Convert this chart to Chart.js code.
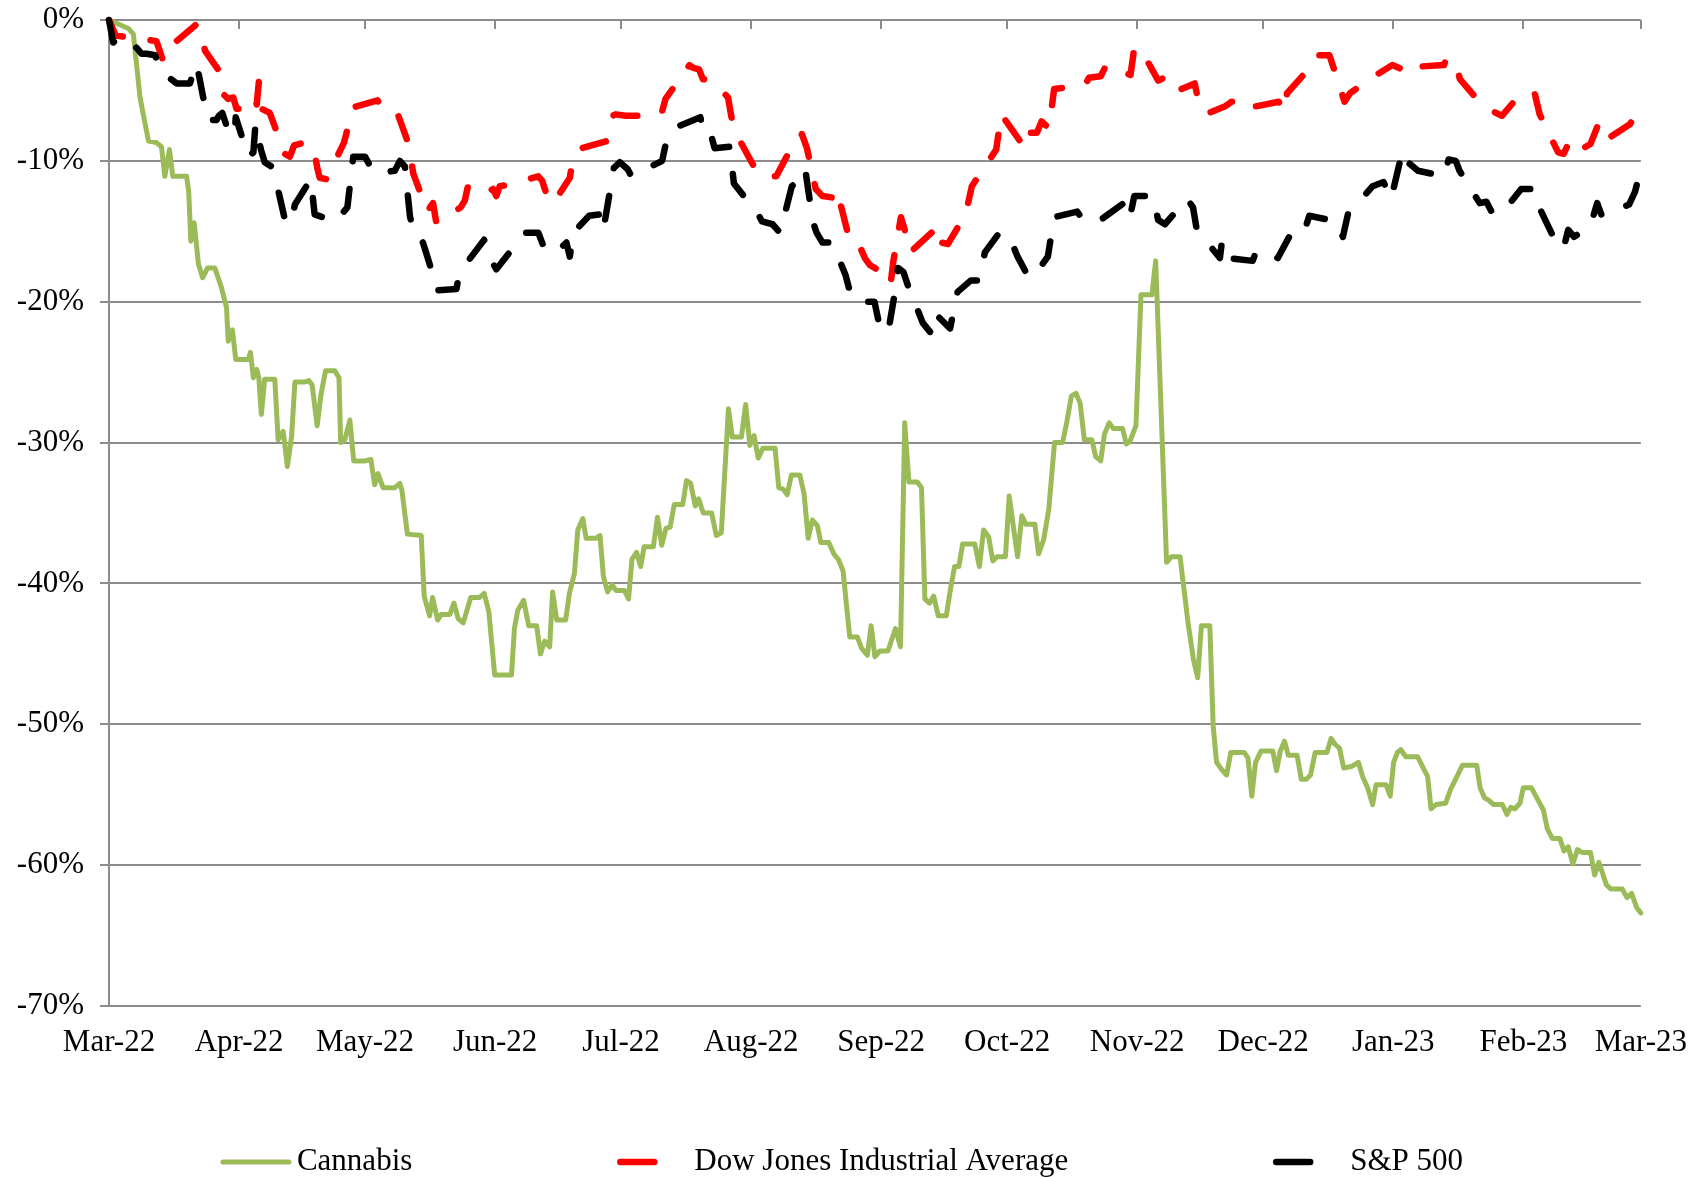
<!DOCTYPE html>
<html>
<head>
<meta charset="utf-8">
<title>Cannabis vs Dow Jones vs S&amp;P 500</title>
<script src="https://cdn.jsdelivr.net/npm/chart.js@4.4.1/dist/chart.umd.min.js"></script>
<style>
  html, body { margin: 0; padding: 0; background: #fff; }
  #wrap { width: 1705px; height: 1178px; }
</style>
</head>
<body>
<div id="wrap"><canvas id="chart" width="1705" height="1178"></canvas></div>
<script>
// x = days since 1 Mar 2022, y = % change since that day
const monthDays = [0, 31, 61, 92, 122, 153, 184, 214, 245, 275, 306, 337, 365];
const monthLabels = ['Mar-22', 'Apr-22', 'May-22', 'Jun-22', 'Jul-22', 'Aug-22', 'Sep-22',
  'Oct-22', 'Nov-22', 'Dec-22', 'Jan-23', 'Feb-23', 'Mar-23'];

const seriesNames = ['Cannabis', 'Dow Jones Industrial Average', 'S&P 500'];

const cannabis = [
  [0, 0], [4.6, -0.6], [5.8, -1], [7.4, -5.5], [9.4, -8.6], [11.3, -8.7], [12.5, -9], [13.3, -11.1],
  [14.4, -9.2], [15.2, -11.1], [18.5, -11.1], [19, -12.2], [19.5, -15.7], [20.3, -14.4], [21.3, -17.3],
  [22.3, -18.3], [23.5, -17.6], [25.2, -17.6], [26.7, -18.9], [28, -20.4], [28.4, -22.8], [29.4, -22],
  [30.2, -24.1], [33.2, -24.1], [33.7, -23.6], [34.4, -25.4], [35.2, -24.8], [35.7, -25.4], [36.3, -28],
  [37.1, -25.5], [39.5, -25.5], [40.3, -29.8], [41.5, -29.2], [42.5, -31.7], [43.5, -29.6], [44.3, -25.7],
  [46.7, -25.7], [47.6, -25.6], [48.4, -25.9], [49.6, -28.8], [50.5, -26.6], [51.6, -24.9], [53.8, -24.9],
  [54.8, -25.4], [55.2, -30], [56.2, -29.8], [57.4, -28.4], [58.3, -31.3], [61, -31.3], [62.4, -31.2],
  [63.3, -33], [64.1, -32.2], [65.3, -33.2], [68.1, -33.2], [69.3, -32.9], [69.8, -33.4], [71.1, -36.5],
  [74.4, -36.6], [75.1, -40.9], [76.4, -42.3], [77.1, -41], [78.3, -42.6], [79.2, -42.2], [81.2, -42.2],
  [82.2, -41.4], [83.2, -42.5], [84.4, -42.8], [86.2, -41], [88.3, -41], [89.4, -40.7], [90.5, -42],
  [91.9, -46.5], [95.9, -46.5], [96.6, -43.2], [97.4, -41.9], [98.8, -41.2], [100, -43], [101.9, -43],
  [102.8, -45], [103.8, -44.1], [105, -44.5], [105.7, -40.6], [106.7, -42.6], [108.8, -42.6], [109.7, -40.7],
  [110.9, -39.3], [111.7, -36.2], [112.9, -35.4], [113.7, -36.8], [116, -36.8], [117, -36.6], [117.8, -39.5],
  [118.8, -40.6], [119.9, -40.1], [120.8, -40.5], [122.8, -40.5], [123.8, -41.1], [124.6, -38.3],
  [125.7, -37.8], [126.7, -38.8], [127.5, -37.4], [129.7, -37.4], [130.7, -35.3], [131.7, -37.3],
  [132.7, -36.1], [133.7, -36], [134.7, -34.4], [136.7, -34.4], [137.6, -32.7], [138.6, -32.9],
  [139.7, -34.5], [140.5, -34], [141.6, -35], [143.6, -35], [144.7, -36.6], [145.9, -36.4], [147.6, -27.6],
  [148.5, -29.6], [150.7, -29.6], [151.7, -27.3], [152.7, -30.2], [153.7, -29.5], [154.7, -31.1],
  [155.8, -30.4], [158.7, -30.4], [159.6, -33.2], [160.6, -33.3], [161.6, -33.7], [162.6, -32.3],
  [164.6, -32.3], [165.6, -33.6], [166.6, -36.8], [167.6, -35.5], [168.8, -35.9], [169.6, -37.1],
  [171.5, -37.1], [172.7, -37.9], [173.8, -38.3], [174.9, -39.1], [176.5, -43.8], [178.3, -43.8],
  [179.3, -44.6], [180.7, -45.1], [181.6, -43], [182.5, -45.2], [183.7, -44.8], [185.6, -44.8],
  [187.4, -43.2], [188.6, -44.5], [189.6, -28.6], [190.6, -32.8], [192.6, -32.8], [193.6, -33.2],
  [194.4, -41.1], [195.5, -41.4], [196.5, -40.9], [197.6, -42.3], [199.5, -42.3], [200.5, -40.4],
  [201.5, -38.8], [202.5, -38.8], [203.4, -37.2], [206.3, -37.2], [207.4, -38.8], [208.4, -36.2],
  [209.6, -36.7], [210.6, -38.4], [211.6, -38.1], [213.6, -38.1], [214.5, -33.8], [215.6, -36.2],
  [216.5, -38.1], [217.5, -35.2], [218.5, -35.8], [220.6, -35.8], [221.5, -37.9], [222.7, -36.9],
  [223.9, -34.8], [225.3, -30], [227.2, -30], [228.2, -28.6], [229.3, -26.7], [230.4, -26.5],
  [231.4, -27.2], [232.4, -29.8], [234.2, -29.8], [235.1, -31], [236.3, -31.3], [237.2, -29.4],
  [238.3, -28.6], [239.3, -29], [241.5, -29], [242.4, -30.1], [243.3, -29.9], [244.7, -28.8],
  [245.9, -19.5], [248.5, -19.5], [249.4, -17.1], [252, -38.5], [253.2, -38.1], [255.2, -38.1],
  [257.2, -43], [258.4, -45.4], [259.4, -46.7], [260.3, -43], [262.3, -43], [263.1, -50.1], [263.9, -52.7],
  [265.1, -53.2], [266.3, -53.6], [267.3, -52], [270.5, -52], [271.4, -52.4], [272.3, -55.1],
  [273.2, -52.7], [274.5, -51.9], [277.3, -51.9], [278.2, -53.3], [279.1, -51.9], [280.1, -51.2],
  [281, -52.2], [283.1, -52.2], [284.1, -53.9], [285.3, -53.9], [286.3, -53.6], [287.4, -52], [290.2, -52],
  [291.2, -51], [292.1, -51.4], [293.2, -51.7], [294.2, -53.1], [296, -53], [297.7, -52.7], [298.7, -53.7],
  [299.9, -54.5], [301.1, -55.7], [301.9, -54.3], [304.3, -54.3], [305.3, -55.1], [306.1, -52.7],
  [307, -52], [307.8, -51.8], [309, -52.3], [311.8, -52.3], [313, -53], [314.2, -53.7], [315, -56],
  [316.2, -55.7], [318.5, -55.6], [319.7, -54.6], [321.2, -53.7], [322.5, -52.9], [325.9, -52.9],
  [326.7, -54.5], [327.7, -55.2], [328.8, -55.4], [329.9, -55.7], [332, -55.7], [333.1, -56.4],
  [334, -55.9], [335, -56], [336.2, -55.6], [337, -54.5], [338.9, -54.5], [340, -55.1], [341.8, -56.1],
  [342.7, -57.4], [343.9, -58.1], [345.7, -58.1], [346.7, -59], [347.7, -58.7], [348.8, -59.9],
  [349.9, -58.9], [351, -59.1], [353, -59.1], [354, -60.7], [355, -59.8], [356.8, -61.4], [357.9, -61.7],
  [360.6, -61.7], [361.7, -62.3], [362.8, -62], [364, -63], [365, -63.4]
];

const dowJones = [
  [0, 0], [1.6, -1.1], [11.3, -1.5], [12.9, -2.9], [13.7, -2.2], [14.5, -1.9], [20.9, -0.3], [21.7, -0.6],
  [22.3, -1.4], [22.9, -2.2], [26.2, -3.6], [27, -5.2], [28.4, -5.6], [29.6, -5.5], [30.4, -6.3],
  [32.4, -6.3], [33.6, -5.9], [34.8, -5.5], [35.2, -6], [35.7, -4.4], [36.3, -6.3], [38.3, -6.6],
  [41.9, -9.5], [43.1, -9.7], [44.1, -8.9], [46.7, -8.7], [48.7, -9], [49.7, -10.6], [50.2, -11.2],
  [51.8, -11.3], [56, -8.7], [58.2, -6.2], [64, -5.7], [64.9, -6.2], [66.1, -6.5], [68.7, -6.6],
  [70.9, -8.4], [71.7, -9.4], [72.5, -10.9], [75.9, -13.6], [76.7, -13.2], [77.2, -13], [78, -14.4],
  [82.8, -13.5], [83.8, -13.3], [84.8, -12.8], [85.6, -11.7], [90.3, -12.2], [91.5, -12], [92.3, -12.5],
  [93.1, -11.8], [95.1, -11.7], [102.3, -11.1], [103.2, -11.4], [104.6, -12.7], [105.9, -13],
  [109.8, -11.2], [110.6, -9.7], [111.7, -9.4], [112.7, -9.1], [118.5, -8.6], [119.9, -6.8],
  [120.8, -6.7], [123.1, -6.8], [127.4, -6.8], [130.9, -6.8], [131.7, -6.6], [132.6, -5.6],
  [138.3, -3.2], [139.2, -3.4], [140.6, -3.5], [141.5, -4.2], [143.8, -4.3], [147.5, -5.5],
  [148.2, -6.7], [148.9, -7.8], [153.5, -10.3], [154.7, -10.5], [155.8, -11.1], [159, -11.1],
  [162.7, -9], [164.5, -8.7], [165.1, -8.1], [166.3, -9.1], [168.4, -12], [170, -12.5], [172.3, -12.6],
  [173.1, -12], [174, -12.7], [176.6, -15.8], [178.8, -16], [180.1, -16.9], [181.3, -17.4],
  [183.5, -17.8], [184.1, -18.6], [186.3, -18.6], [186.9, -17.1], [188.7, -14], [189.8, -15.1],
  [190.9, -16.5], [196.7, -14.9], [197.6, -14.6], [198.3, -15.8], [199.9, -15.9], [204.1, -13.8],
  [205.6, -11.8], [211.4, -9.2], [212.6, -6.7], [218.3, -9.1], [219.2, -8], [221.1, -8], [222.2, -7.2],
  [224, -7.7], [225.2, -4.9], [232.6, -4.6], [233.5, -4.1], [236.3, -4], [237.6, -3.2], [243.4, -3.9],
  [244.3, -2], [245.9, -2.1], [250, -4.3], [251.4, -4.1], [252.3, -4], [253.2, -4.8], [255.5, -4.9],
  [258.7, -4.5], [259.8, -6.1], [260.6, -6.5], [262, -6.6], [266.1, -6.1], [267.5, -5.8], [271.6, -5.8],
  [272.1, -6.2], [278.7, -5.8], [280, -6.5], [280.7, -5.2], [286.7, -3.2], [287.9, -2.5], [290.8, -2.5],
  [291.9, -3.5], [294.4, -5.8], [295.7, -5.2], [297.1, -4.9], [298.9, -4.6], [300.3, -4.2],
  [305.8, -3.2], [308.1, -3.5], [311.7, -3.8], [312.6, -3.3], [318.1, -3.2], [318.7, -2.7], [321, -3.2],
  [321.9, -4.2], [326.5, -5.8], [327.9, -6.1], [329.2, -6.4], [331.9, -6.8], [336.5, -5.2], [339.7, -5.2],
  [340.9, -6.7], [345.3, -9.4], [346.6, -9.5], [347.7, -8.8], [349.1, -9.5], [353, -8.8], [354.6, -7.6],
  [355.7, -8.7], [362.4, -7.4], [363.6, -6.8], [365, -5.5]
];

const sp500 = [
  [0, 0], [1, -1.6], [2.1, -1.3], [4.6, -1.3], [7.8, -2.4], [9, -2.4], [11, -2.5], [12.1, -3.6],
  [16.1, -4.5], [19.3, -4.5], [19.8, -4], [20.9, -3.1], [22.9, -6.2], [23.5, -7.1], [25.6, -7.1],
  [26.2, -6.8], [27, -6.6], [28.8, -8.2], [29.2, -7.9], [30, -7.8], [30.2, -6.9], [33.2, -9.7],
  [34.4, -9.4], [34.9, -7.4], [36.2, -9.2], [37.1, -10.1], [38.7, -10.4], [39.5, -11], [41.7, -13.9],
  [42.3, -14.3], [43.3, -14.5], [44.3, -13.1], [48.1, -11.3], [49, -13.8], [53.8, -14.3], [54.8, -14.2],
  [55.4, -13.8], [56.8, -13.3], [58.2, -9.7], [61, -9.7], [62.1, -10.3], [63.3, -10.9], [65.7, -10.8],
  [68.1, -10.7], [69.3, -10], [70.5, -10.4], [71.7, -13.9], [72.5, -15.1], [73.5, -15.2], [74.8, -15.8],
  [76.8, -17.7], [77.2, -18.4], [78, -19.2], [82.8, -19.1], [83.2, -18.4], [84.6, -17.9], [85.6, -17.1],
  [89.4, -15.6], [90.3, -16.8], [91.5, -17.3], [92.3, -17.7], [99.1, -15.1], [102.3, -15.1],
  [104.1, -16.5], [107.9, -16.1], [109, -15.8], [109.8, -16.8], [110.6, -15.1], [114.4, -13.9],
  [117.1, -13.8], [117.8, -14.9], [120.3, -10.5], [121.7, -10.1], [123.6, -10.6], [124.5, -11.1],
  [131.8, -10], [132.8, -8.6], [133.7, -8.2], [134.4, -7.7], [140.9, -6.9], [141.8, -8.1], [143.3, -8],
  [144.3, -9.1], [147.9, -9], [148.9, -11.6], [154.7, -13.8], [155.6, -14.3], [158.1, -14.5],
  [159.9, -15.1], [162.7, -11.8], [163.9, -11.5], [165, -11.4], [165.9, -10.6], [167.7, -14.3],
  [168.6, -15.1], [170, -15.8], [172.3, -15.8], [175.5, -18.1], [176.9, -19.7], [179.2, -20],
  [182.4, -20], [183.8, -22], [185.7, -22.1], [187.5, -18.9], [188, -17.6], [189.3, -17.9],
  [190.3, -18.8], [193.9, -21.5], [195.8, -22.2], [196.7, -20.8], [200.4, -21.9], [202.2, -19.3],
  [205.3, -18.5], [207.3, -18.5], [208.7, -16.5], [211.9, -15.2], [213.7, -15.1], [215.1, -15.8],
  [216.5, -16.8], [219, -18.2], [221.1, -18.1], [222.5, -17.3], [223.7, -16.8], [225.2, -14],
  [230.7, -13.6], [232.1, -14.2], [233.9, -13.9], [236.7, -14.1], [241.8, -13], [243.2, -14.1],
  [244.3, -12.5], [248.7, -12.5], [250, -14.2], [251.6, -14.5], [256.9, -12.7], [258.3, -13.3],
  [259.2, -14.9], [264.7, -16.9], [265.2, -15.7], [266.8, -16.9], [272.5, -17.1], [273.4, -16.4],
  [276.2, -16.5], [278.5, -16.9], [281.2, -15.4], [284.4, -15.4], [286, -13.9], [292.6, -14.3],
  [294, -15.4], [295.2, -13.8], [301.1, -11.8], [303.7, -11.5], [305.5, -12.7], [308.2, -9.3],
  [309.1, -10], [311.9, -10.7], [318.1, -11.1], [319.2, -9.9], [320.9, -10], [321.8, -10.7],
  [326.6, -13], [328.2, -12.9], [329.6, -13.7], [331.9, -13.7], [336.5, -12], [339.7, -12],
  [341.1, -13.5], [345.3, -16.1], [346.6, -16.2], [347.7, -14.9], [349.1, -15.4], [353, -14.6],
  [354.6, -13], [355.7, -13.9], [362.2, -13.1], [363.6, -12.2], [365, -10.6]
];

const GRID = '#8c8c8c';
const FONT = { family: '"Liberation Serif", "Times New Roman", serif', size: 31 };
const DASH = [24, 28];
const LEGEND_DASH = 34;

const toPoints = arr => arr.map(([x, y]) => ({ x, y }));

// small ticks hanging down from the 0% line, one per month
const topTicks = {
  id: 'topTicks',
  beforeDatasetsDraw(chart) {
    const { ctx, chartArea, scales: { x } } = chart;
    ctx.save();
    ctx.strokeStyle = GRID;
    ctx.lineWidth = 2;
    x.ticks.forEach(t => {
      const px = Math.round(x.getPixelForValue(t.value));
      ctx.beginPath();
      ctx.moveTo(px, chartArea.top);
      ctx.lineTo(px, chartArea.top + 9);
      ctx.stroke();
    });
    ctx.restore();
  }
};

// Excel style legend row: wide, evenly spaced entries
const bottomLegend = {
  id: 'bottomLegend',
  afterDraw(chart) {
    const { ctx } = chart;
    const sets = chart.data.datasets;
    const keyLen = 66, cap = 3, textGap = 8, itemGap = 205;
    ctx.save();
    ctx.font = `${FONT.size}px ${FONT.family}`;
    ctx.textBaseline = 'middle';
    const widths = sets.map(d => cap + keyLen + textGap + ctx.measureText(d.label).width);
    const total = widths.reduce((a, b) => a + b, 0) + itemGap * (sets.length - 1);
    let x = chart.width / 2 - 11 - total / 2;
    const y = chart.height - 16;
    sets.forEach((d, i) => {
      const x0 = x + cap;
      ctx.strokeStyle = d.borderColor;
      ctx.lineWidth = d.borderWidth;
      ctx.lineCap = 'round';
      ctx.setLineDash(d.borderDash && d.borderDash.length ? [LEGEND_DASH, keyLen] : []);
      ctx.beginPath();
      ctx.moveTo(x0, y);
      ctx.lineTo(x0 + keyLen, y);
      ctx.stroke();
      ctx.setLineDash([]);
      ctx.fillStyle = '#000';
      ctx.fillText(d.label, x0 + keyLen + textGap, y);
      x += widths[i] + itemGap;
    });
    ctx.restore();
  }
};

new Chart(document.getElementById('chart'), {
  type: 'line',
  data: {
    datasets: [
      {
        label: seriesNames[0], data: toPoints(cannabis), order: 3,
        borderColor: '#9bbb59', borderWidth: 5, borderJoinStyle: 'round', borderCapStyle: 'round'
      },
      {
        label: seriesNames[1], data: toPoints(dowJones), order: 2,
        borderColor: '#ff0000', borderWidth: 6.5, borderDash: DASH,
        borderJoinStyle: 'round', borderCapStyle: 'round'
      },
      {
        label: seriesNames[2], data: toPoints(sp500), order: 1,
        borderColor: '#000000', borderWidth: 6.5, borderDash: DASH,
        borderJoinStyle: 'round', borderCapStyle: 'round'
      }
    ]
  },
  options: {
    responsive: false,
    animation: false,
    devicePixelRatio: 1,
    layout: { padding: { top: 20, right: 61, bottom: 112, left: 0 } },
    elements: { point: { radius: 0 }, line: { tension: 0, fill: false } },
    datasets: { line: { clip: false } },
    plugins: { legend: { display: false }, tooltip: { enabled: false } },
    scales: {
      x: {
        type: 'linear',
        min: 0,
        max: 365,
        afterBuildTicks: axis => { axis.ticks = monthDays.map(v => ({ value: v })); },
        afterFit: s => { s.height = 60; },
        ticks: {
          autoSkip: false, maxRotation: 0, padding: 18,
          color: '#000', font: FONT,
          callback: (v, i) => monthLabels[i]
        },
        grid: { display: false, drawTicks: false },
        border: { display: false }
      },
      y: {
        min: -70,
        max: 0,
        // fixed axis width; drop the label overhang so the plot starts right under the top margin
        afterFit: s => { s.width = 109; s.paddingTop = 0; s.paddingBottom = 0; },
        ticks: {
          stepSize: 10, padding: 16, color: '#000', font: FONT,
          callback: v => v + '%'
        },
        grid: { color: GRID, lineWidth: 2, tickLength: 9 },
        border: { color: GRID, width: 2 }
      }
    }
  },
  plugins: [topTicks, bottomLegend]
});
</script>
</body>
</html>
